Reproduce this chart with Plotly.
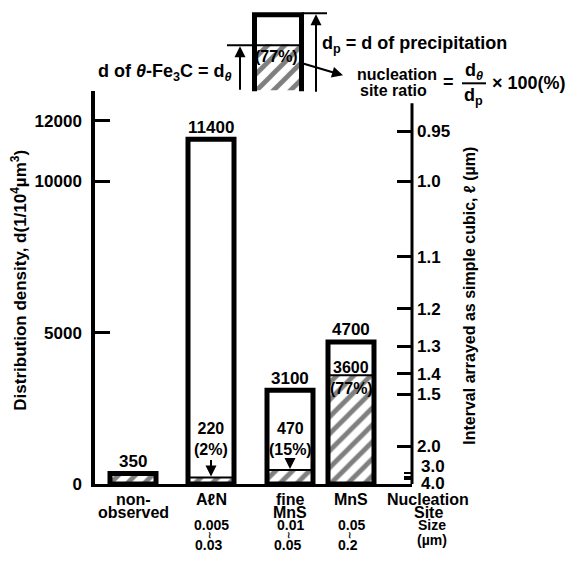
import plotly.graph_objects as go

# ---------------- data ----------------
categories_line1 = ["non-", "AℓN", "fine", "MnS"]
categories_line2 = ["observed", "", "MnS", ""]
total_density = [350, 11400, 3100, 4700]          # d of precipitation
theta_density = [350, 220, 470, 3600]             # d of theta-Fe3C
ratio_labels = ["", "(2%)", "(15%)", "(77%)"]
size_low = ["", "0.005", "0.01", "0.05"]
size_high = ["", "0.03", "0.05", "0.2"]
left_ticks = [0, 5000, 10000, 12000]
right_tick_labels = ["0.95", "1.0", "1.1", "1.2", "1.3", "1.4", "1.5", "2.0"]
right_minor_labels = ["3.0", "3.5", "4.0"]

# ---------------- layout helpers ----------------
OFF = 8            # page body margin
SY = 0.98          # vertical factor of the photographed page
W, H = 577 - 2 * OFF, 570 - 2 * OFF
PL, PR, PT, PB = 95, 412, 91, 483          # target pixels of plot area
Y_MAX = 5000 * (PB - PT) / 151.0
bar_x = [133, 211, 290, 351]
BAR_W = 46
FONT = "Liberation Sans, Arial, Helvetica, sans-serif"


def px(x):
    return (x - OFF) / W


def py(y):
    return 1 - (y / SY - OFF) / H


def d_of_l(l):
    return 1e4 / float(l) ** 3


hatch = dict(shape="/", fgcolor="black", bgcolor="white", size=12, solidity=0.4)
ARW = dict(arrowhead=2, arrowsize=1.1, arrowwidth=2, arrowcolor="black")

fig = go.Figure()

fig.add_trace(go.Bar(
    x=bar_x, y=theta_density, width=BAR_W,
    marker=dict(color="white", pattern=hatch, line=dict(color="black", width=2)),
    hoverinfo="skip", showlegend=False, xaxis="x", yaxis="y"))
fig.add_trace(go.Bar(
    x=bar_x, y=total_density, width=BAR_W,
    marker=dict(color="rgba(0,0,0,0)", line=dict(color="black", width=5)),
    hoverinfo="skip", showlegend=False, xaxis="x", yaxis="y"))
fig.add_trace(go.Scatter(x=[bar_x[0]], y=[0], mode="markers", marker=dict(size=0.1, opacity=0),
                         hoverinfo="skip", showlegend=False, xaxis="x", yaxis="y2"))
fig.add_trace(go.Bar(
    x=[278], y=[46], base=[-90], width=[44],
    marker=dict(color="white", pattern=hatch, line=dict(width=0)),
    hoverinfo="skip", showlegend=False, xaxis="x3", yaxis="y3"))

annotations = []


def pa(x, y, text, size=16, **kw):
    d = dict(x=px(x), y=py(y), xref="paper", yref="paper", text=text,
             showarrow=False, font=dict(size=size), xanchor="center", yanchor="middle")
    d.update(kw)
    annotations.append(d)


for xi, t in zip(bar_x, total_density):
    annotations.append(dict(x=xi, y=t, xref="x", yref="y", text=str(t), showarrow=False,
                            yanchor="middle", yshift=12, font=dict(size=17)))

for i in (1, 2):
    annotations.append(dict(x=bar_x[i], y=theta_density[i], xref="x", yref="y",
                            text=f"{theta_density[i]}<br>{ratio_labels[i]}",
                            showarrow=True, ax=0, ay=-38 if i == 1 else -31, standoff=1,
                            font=dict(size=16), **ARW))
annotations.append(dict(x=bar_x[3], y=theta_density[3], xref="x", yref="y",
                        text=str(theta_density[3]), showarrow=False, yshift=8,
                        font=dict(size=16)))
annotations.append(dict(x=bar_x[3], y=theta_density[3], xref="x", yref="y",
                        text=ratio_labels[3], showarrow=False, yshift=-13,
                        font=dict(size=16)))

for xi, l1, l2 in zip(bar_x, categories_line1, categories_line2):
    pa(xi, 498, l1)
    if l2:
        pa(xi, 511, l2)
pa(428, 498, "Nucleation")
pa(428, 511, "Site")

for xi, lo, hi in zip(bar_x, size_low, size_high):
    if not lo:
        continue
    pa(xi, 524, lo, size=14)
    pa(xi - 2, 534, "≀", size=9)
    pa(xi - 3, 544, hi, size=14)
pa(432, 524, "Size", size=14)
pa(432, 539, "(µm)", size=14)

pa(419, 465, "3.0", size=17, xanchor="left")
pa(419, 482, "4.0", size=17, xanchor="left")

pa(19, 280, "Distribution density, d(1/10<sup>4</sup>µm<sup>3</sup>)", size=17, textangle=-90)
pa(470, 295, "Interval arrayed as simple cubic, ℓ (µm)", size=16, textangle=-90)

annotations.append(dict(x=276, y=-56, xref="x3", yref="y3", text="(77%)", showarrow=False,
                        font=dict(size=16)))
pa(234, 72, "d of <i>θ</i>-Fe<sub>3</sub>C = d<sub><i>θ</i></sub>", size=18, xanchor="right")
pa(320, 44, "d<sub>p</sub> = d of precipitation", size=18, xanchor="left")
pa(397, 74, "nucleation")
pa(393, 90, "site ratio")
pa(448, 82, "=", size=18)
pa(474, 71, "d<sub><i>θ</i></sub>", size=18)
pa(473, 96, "d<sub>p</sub>", size=18)
pa(490, 83, "× 100(%)", size=18, xanchor="left")
annotations.append(dict(x=240, y=-46, xref="x3", yref="y3", ax=240, ay=-91,
                        axref="x3", ayref="y3", text="", showarrow=True, **ARW))
annotations.append(dict(x=316, y=-14, xref="x3", yref="y3", ax=316, ay=-93,
                        axref="x3", ayref="y3", text="", showarrow=True, **ARW))
annotations.append(dict(x=343, y=-75, xref="x3", yref="y3", ax=299, ay=-62,
                        axref="x3", ayref="y3", text="", showarrow=True, **ARW))

shapes = [
    dict(type="path", xref="x3", yref="y3",
         path="M 254.5 -91 L 254.5 -14.5 L 301.5 -14.5 L 301.5 -91",
         line=dict(color="black", width=5)),
    dict(type="line", xref="x3", yref="y3", x0=227, x1=302, y0=-45, y1=-45,
         line=dict(color="black", width=2)),
    dict(type="line", xref="x3", yref="y3", x0=302, x1=327, y0=-13, y1=-13,
         line=dict(color="black", width=2)),
    dict(type="line", xref="paper", yref="paper", x0=px(462), x1=px(486), y0=py(83), y1=py(83),
         line=dict(color="black", width=2)),
    dict(type="line", xref="paper", yref="paper", x0=px(PR), x1=px(PR), y0=py(103), y1=py(PB),
         line=dict(color="black", width=3)),
]

right_vals = [d_of_l(v) for v in right_tick_labels]
minor_vals = [d_of_l(v) for v in right_minor_labels]

fig.update_layout(
    width=W, height=H,
    margin=dict(l=0, r=0, t=0, b=0),
    paper_bgcolor="white", plot_bgcolor="rgba(0,0,0,0)",
    font=dict(family=FONT, size=16, color="black", weight="bold"),
    barmode="overlay",
    showlegend=False,
    xaxis=dict(domain=[px(PL), px(PR)], range=[PL, PR], showline=True, linewidth=3,
               linecolor="black", ticks="", showticklabels=False, showgrid=False,
               zeroline=False, anchor="y", fixedrange=True),
    yaxis=dict(domain=[py(PB), py(PT)], range=[0, Y_MAX], tickvals=left_ticks,
               ticktext=[str(v) for v in left_ticks],
               ticks="inside", ticklen=15, tickwidth=2.5, tickcolor="black",
               showline=True, linewidth=3.5, linecolor="black", showgrid=False,
               zeroline=False, anchor="x", tickfont=dict(size=17), ticklabelstandoff=6),
    yaxis2=dict(overlaying="y", side="right", anchor="x", range=[0, Y_MAX],
                tickvals=right_vals, ticktext=right_tick_labels, ticks="inside",
                ticklen=15, tickwidth=2.5, tickcolor="black", showline=False,
                showgrid=False, zeroline=False, tickfont=dict(size=17), ticklabelstandoff=4,
                minor=dict(tickvals=minor_vals, ticks="inside", ticklen=8, tickwidth=2,
                           tickcolor="black", showgrid=False)),
    xaxis3=dict(domain=[px(220), px(340)], range=[220, 340], visible=False, anchor="y3"),
    yaxis3=dict(domain=[py(100), py(8)], range=[-100, -8], visible=False, anchor="x3"),
    annotations=annotations,
    shapes=shapes,
)

fig.write_html("out.html")
